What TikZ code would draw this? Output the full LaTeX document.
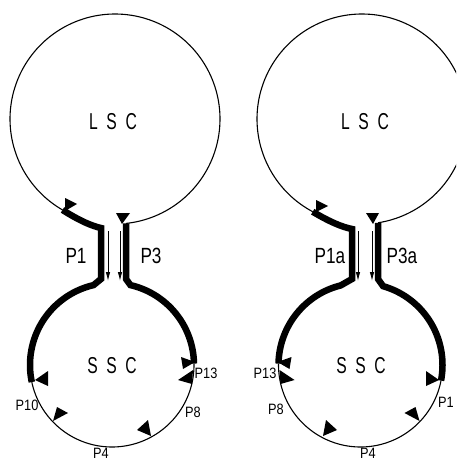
\documentclass[tikz,border=0pt]{standalone}
\usepackage{fontspec}
\usepackage{graphicx}
\setmainfont{Liberation Sans}
\usetikzlibrary{arrows.meta}
\newcommand{\narrowtxt}[2]{\scalebox{#1}[1]{#2}}
\begin{document}
\begin{tikzpicture}[x=1pt,y=-1pt,
  thinln/.style={line width=1.1pt},
  thickln/.style={line width=6.5pt, line join=miter, line cap=butt},
  flag/.style={fill=black},
  flow/.style={line width=0.9pt, -{Latex[length=9pt,width=4.5pt]}},
  big/.style={font=\fontsize{23}{23}\selectfont, inner sep=0pt},
  plab/.style={font=\fontsize{22}{22}\selectfont, inner sep=0pt},
  slab/.style={font=\fontsize{15}{15}\selectfont, inner sep=0pt}]
\useasboundingbox (0,0) rectangle (456,462);
\clip (0,0) rectangle (456,462);

% ---------- left form ----------
% large single copy region
\draw[thinln] plot[domain=120:444, samples=160] ({115+105*cos(\x)},{119+105*sin(\x)});
% inverted repeats (thick) joining the two circles
\draw[thickln] ({115+105*cos(120)},{119+105*sin(120)}) .. controls (80,221) and (92,226) .. (101,228)
  -- (101,279) -- plot[domain=257:168, samples=60] ({112+82*cos(\x)},{365+82*sin(\x)});
\draw[thickln] (126,223.4) -- (126,279)
  -- plot[domain=283:359, samples=40] ({112+82*cos(\x)},{365+82*sin(\x)});
% small single copy region
\draw[thinln] plot[domain=-1:168, samples=100] ({112+82*cos(\x)},{365+82*sin(\x)});
% flow arrows between the repeats
\coordinate (la1s) at (108,231); \coordinate (la1e) at (108,281);
\coordinate (la2s) at (120,231); \coordinate (la2e) at (120,281);
\draw[flow] (la1s) -- (la1e);
\draw[flow] (la2s) -- (la2e);
% primer flags
\fill[flag] (65,198) -- (65,211) -- (77,204) -- cycle;
\fill[flag] (116,213) -- (130,213) -- (122,224) -- cycle;
\fill[flag] (181,357) -- (183,369) -- (195,362) -- cycle;
\fill[flag] (193,370) -- (192,384) -- (178,380) -- cycle;
\fill[flag] (148,420) -- (151,436) -- (137,430) -- cycle;
\fill[flag] (57,407) -- (53,421) -- (68,413) -- cycle;
\fill[flag] (48,371) -- (48,386) -- (35,380) -- cycle;
% labels
\node[big] (lscL) at (113,122) {\narrowtxt{0.68}{L\hspace{0.55em}S\hspace{0.55em}C}};
\node[big] (sscL) at (112,366) {\narrowtxt{0.68}{S\hspace{0.55em}S\hspace{0.55em}C}};
\node[plab] (p1L) at (76,256) {\narrowtxt{0.78}{P1}};
\node[plab] (p3L) at (151,256) {\narrowtxt{0.78}{P3}};
\node[slab] (p13L) at (206,373) {\narrowtxt{0.85}{P13}};
\node[slab] (p10L) at (27,405) {\narrowtxt{0.85}{P10}};
\node[slab] (p8L) at (193,412) {\narrowtxt{0.85}{P8}};
\node[slab] (p4L) at (101,453) {\narrowtxt{0.85}{P4}};

% ---------- right form (inverted small single copy) ----------
\draw[thinln] plot[domain=118:441.2, samples=160] ({362+105*cos(\x)},{119+105*sin(\x)});
\draw[thickln] ({362+105*cos(118)},{119+105*sin(118)}) .. controls (330,222) and (342,227) .. (352,229)
  -- (352,279) -- plot[domain=256:181, samples=60] ({360.5+82*cos(\x)},{365+82*sin(\x)});
\draw[thickln] (378,222.8) -- (378,279)
  -- plot[domain=286:371, samples=40] ({360.5+82*cos(\x)},{365+82*sin(\x)});
\draw[thinln] plot[domain=11:181, samples=100] ({360.5+82*cos(\x)},{365+82*sin(\x)});
\coordinate (ra1s) at (358,231); \coordinate (ra1e) at (358,281);
\coordinate (ra2s) at (372,231); \coordinate (ra2e) at (372,281);
\draw[flow] (ra1s) -- (ra1e);
\draw[flow] (ra2s) -- (ra2e);
\fill[flag] (316,200) -- (316,212) -- (328,206) -- cycle;
\fill[flag] (366,213) -- (379,213) -- (373,224) -- cycle;
\fill[flag] (291.5,357) -- (289.5,369) -- (277.5,362) -- cycle;
\fill[flag] (279.5,370) -- (280.5,384) -- (294.5,380) -- cycle;
\fill[flag] (326,420) -- (323,436) -- (337,430) -- cycle;
\fill[flag] (415.5,407) -- (419.5,421) -- (404.5,413) -- cycle;
\fill[flag] (426,371) -- (426,386) -- (439,380) -- cycle;
\node[big] (lscR) at (365,122) {\narrowtxt{0.68}{L\hspace{0.55em}S\hspace{0.55em}C}};
\node[big] (sscR) at (361,366) {\narrowtxt{0.68}{S\hspace{0.55em}S\hspace{0.55em}C}};
\node[plab] (p1R) at (330,256) {\narrowtxt{0.78}{P1a}};
\node[plab] (p3R) at (402,256) {\narrowtxt{0.78}{P3a}};
\node[slab] (p13R) at (265,373) {\narrowtxt{0.85}{P13}};
\node[slab] (p8R) at (276,409) {\narrowtxt{0.85}{P8}};
\node[slab] (p1sR) at (446,402) {\narrowtxt{0.85}{P1}};
\node[slab] (p4R) at (368,453) {\narrowtxt{0.85}{P4}};
\end{tikzpicture}
\end{document}
